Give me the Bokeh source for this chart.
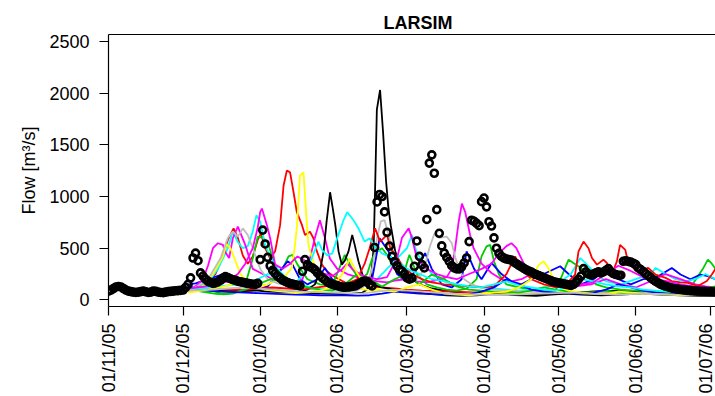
import pandas as pd
from math import pi
from bokeh.plotting import figure
from bokeh.models import Range1d, FixedTicker, DatetimeTickFormatter, LinearAxis
from bokeh.embed import file_html
from bokeh.resources import INLINE

# ---------------------------------------------------------------- data
START = pd.Timestamp("2005-11-01")

month_ticks = ["2005-11-01", "2005-12-01", "2006-01-01", "2006-02-01", "2006-03-01",
               "2006-04-01", "2006-05-01", "2006-06-01", "2006-07-01"]
tick_labels = ["01/11/05", "01/12/05", "01/01/06", "01/02/06", "01/03/06",
               "01/04/06", "01/05/06", "01/06/06", "01/07/06"]
flow_ticks = [0, 500, 1000, 1500, 2000, 2500]

# observed daily flow [m3/s], one value per day from 01/11/05
obs_flow = [
    85, 95, 110, 125, 130, 125, 110, 95, 85, 80,
    75, 72, 75, 80, 85, 78, 72, 75, 85, 82,
    75, 72, 70, 75, 80, 82, 85, 88, 90, 92,
    95, 120, 150, 213, 405, 452, 379, 261, 230, 200,
    180, 170, 160, 165, 175, 190, 210, 225, 215, 205,
    195, 190, 180, 175, 170, 165, 160, 155, 150, 150,
    160, 389, 675, 541, 411, 330, 285, 255, 230, 210,
    192, 180, 168, 158, 152, 146, 142, 138, 277, 389,
    341, 320, 309, 290, 261, 235, 213, 195, 175, 160,
    150, 143, 138, 130, 124, 122, 124, 126, 130, 134,
    145, 160, 175, 182, 178, 150, 135, 507, 947, 1020,
    1000, 851, 653, 520, 421, 370, 330, 295, 277, 250,
    213, 200, 210, 325, 570, 421, 341, 309, 778, 1323,
    1403, 1225, 873, 644, 522, 452, 411, 373, 331, 310,
    300, 300, 320, 357, 405, 564, 771, 760, 740, 718,
    950, 985, 900, 756, 714, 600, 500, 450, 420, 405,
    395, 390, 385, 365, 350, 335, 320, 305, 290, 280,
    270, 255, 245, 235, 225, 215, 205, 195, 185, 175,
    170, 165, 160, 155, 150, 145, 140, 150, 170, 200,
    230, 302, 271, 250, 240, 250, 262, 271, 261, 270,
    285, 302, 271, 255, 245, 239, 239, 373, 379, 372,
    366, 355, 341, 309, 293, 275, 255, 235, 215, 195,
    180, 165, 150, 140, 132, 125, 118, 112, 108, 104,
    100, 97, 94, 92, 90, 88, 86, 85, 84, 83,
    82, 81, 80, 80, 80,
]

# ensemble members: day offset from 01/11/05 and simulated flow [m3/s]
black_a_days = [32, 34, 38, 42, 46, 50, 54, 58, 62, 66, 70, 74, 78, 82, 86, 90, 94, 98, 102,
                104, 105.5, 106.6, 107.2, 107.9, 109.2, 110.4, 111.6, 112.5, 113.5, 115.3, 118, 121, 125,
                130, 135, 140, 146, 152, 158, 164, 170, 176, 182, 188, 194, 200, 206, 212,
                218, 224, 230, 236, 244]
black_a_flow = [95, 110, 120, 105, 95, 90, 90, 95, 110, 100, 85, 75, 70, 65, 60, 58, 55, 60, 70,
                100, 200, 500, 1074, 1840, 2030, 1620, 1150, 900, 720, 470, 310, 220, 150,
                110, 90, 75, 65, 60, 70, 60, 55, 55, 60, 70, 80, 90, 85, 80,
                70, 65, 60, 62, 70]

black_b_days = [32, 36, 42, 48, 54, 60, 64, 70, 76, 80, 83, 85, 86.5, 87.7, 89.1, 90.2, 91.2, 92.5,
                93.8, 95, 96.5, 98, 99, 100.5, 102.5, 106, 110, 115, 120, 125, 130, 136, 142, 148,
                154, 160, 166, 172, 178, 184, 190, 198, 206, 214, 222, 230, 238, 244]
black_b_flow = [100, 120, 100, 90, 85, 90, 80, 75, 80, 100, 150, 277, 469, 760, 1041, 880, 723, 469,
                341, 380, 469, 628, 532, 373, 213, 150, 120, 100, 85, 70, 55, 45, 40, 45,
                55, 50, 45, 40, 50, 60, 50, 45, 50, 60, 50, 45, 40, 40]

red_a_days = [32, 35, 39, 43, 46, 48, 50.3, 52, 54, 56, 58, 60, 61.3, 63, 65, 67, 69, 70.4, 71.7, 73,
              74.4, 75.7, 77.8, 79, 81, 82.4, 83.8, 85.8, 87.8, 91, 95, 100, 105, 110, 115, 120,
              126, 132, 138, 144, 150, 156, 162, 168, 174, 180, 186, 192, 198, 204, 210, 216,
              222, 228, 234, 240, 244]
red_a_flow = [110, 130, 160, 250, 420, 580, 692, 600, 430, 350, 420, 580, 644, 500, 400, 470, 723, 1106,
              1250, 1234, 1043, 852, 723, 628, 660, 596, 469, 341, 277, 220, 170, 140, 130, 120, 110,
              100, 90, 85, 80, 75, 70, 80, 90, 85, 80, 70, 65, 60, 70, 75, 70, 65, 60, 55, 50, 55, 60]

red_b_days = [32, 36, 42, 48, 54, 60, 66, 72, 78, 84, 90, 96, 100, 103, 105, 107.2, 109.2, 112, 113.3,
              115.3, 118, 122, 126, 130, 135, 140, 145, 150, 155, 160, 163.5, 166, 170, 175, 180,
              184, 187.6, 189, 191, 193, 194.4, 196.4, 199, 200.4, 202.4, 204.4, 205.7, 207.8, 209,
              211.8, 214, 217, 220, 224, 226.5, 230, 233, 237, 240.6, 242.6, 244]
red_b_flow = [90, 100, 110, 100, 95, 110, 120, 110, 100, 120, 140, 160, 200, 350, 500, 692, 564, 628, 500,
              436, 340, 250, 200, 170, 150, 140, 130, 120, 130, 250, 421, 300, 200, 150, 120,
              150, 245, 469, 564, 500, 405, 341, 389, 357, 245, 373, 532, 484, 357,
              293, 280, 309, 245, 213, 182, 170, 165, 134, 182, 245, 300]

green_a_days = [32, 35, 40, 44, 48, 52, 55, 58, 60, 62, 64, 66, 68, 70, 72.4, 74, 76, 80, 85, 90,
                95, 98, 101, 104, 106, 108, 110, 112, 115, 118, 121, 124, 128, 132, 136, 140, 144,
                148, 150, 152, 153.5, 155, 157, 160, 165, 170, 175, 180, 185, 188, 192, 196, 200,
                206, 212, 218, 224, 230, 234, 236.6, 239, 241, 242.6, 244]
green_a_flow = [100, 90, 70, 55, 60, 100, 150, 400, 612, 600, 560, 405, 277, 300, 421, 436, 341, 200, 150, 140,
                436, 300, 200, 250, 400, 469, 500, 436, 300, 200, 436, 250, 150, 120, 100, 90, 110,
                200, 421, 517, 532, 373, 245, 150, 120, 100, 90, 100, 389, 340, 277, 150, 120,
                100, 90, 80, 70, 80, 120, 213, 300, 389, 350, 300]

green_b_days = [32, 36, 42, 46, 50, 55, 60, 65, 70, 75, 80, 85, 90, 95, 100, 105, 110, 115, 120, 125,
                130, 135, 140, 145, 150, 155, 160, 165, 170, 175, 180, 185, 190, 195, 200, 205, 210,
                215, 220, 225, 230, 236, 240, 244]
green_b_flow = [120, 100, 86, 54, 60, 101, 150, 200, 180, 150, 120, 100, 90, 150, 250, 200, 130, 200, 250, 150,
                245, 200, 130, 100, 90, 80, 75, 70, 90, 120, 100, 80, 70, 75, 90, 70, 60,
                55, 60, 70, 70, 90, 110, 130]

blue_a_days = [32, 35, 40, 45.6, 48, 52, 56, 60, 64, 68, 72, 74, 77, 80, 84, 87, 90, 94, 98, 102,
               106, 109, 112.6, 116, 120, 124, 127.3, 130, 134, 138, 142, 144, 147, 150, 154, 158,
               162, 166, 170, 175, 181.6, 185, 190, 195, 200, 205, 210, 215, 220, 226.5, 230, 234,
               238, 241, 244]
blue_a_flow = [150, 160, 200, 245, 200, 150, 120, 100, 130, 250, 373, 341, 200, 150, 200, 309, 200, 130, 120, 130,
               200, 596, 469, 250, 180, 300, 452, 300, 150, 120, 200, 469, 300, 200, 357, 250,
               180, 150, 200, 250, 325, 250, 150, 200, 300, 200, 150, 200, 213, 309, 245, 200,
               245, 230, 200]

blue_b_days = [32, 35, 40, 45, 50, 55, 60, 65, 70, 75, 80, 85, 90, 95, 100, 105, 110, 115, 120, 125,
               130, 135, 140, 145, 150, 155, 160, 165, 170, 175, 180, 185, 190, 195, 200, 205, 210,
               215, 220, 225, 230, 235, 240, 244]
blue_b_flow = [130, 110, 90, 80, 75, 70, 65, 60, 55, 50, 48, 45, 44, 43, 42, 45, 60, 80, 70, 60,
               55, 50, 48, 55, 80, 120, 200, 150, 100, 80, 70, 65, 60, 70, 100, 150, 120,
               90, 70, 60, 55, 60, 80, 70]

cyan_a_days = [32, 35, 40, 44, 48, 50, 52, 54, 56, 58, 59.5, 61, 63, 65, 68, 72, 76, 80, 84, 88,
               92, 96, 100, 104, 108, 112, 116, 120, 122, 124, 127, 130, 135, 140, 145, 150, 155,
               160, 165, 170, 175, 180, 186, 189.7, 192, 196, 200, 206, 212, 218, 220, 224, 228,
               232, 236, 240, 244]
cyan_a_flow = [120, 130, 170, 300, 500, 660, 560, 500, 520, 660, 819, 756, 532, 420, 300, 200, 150, 130, 110, 100,
               90, 85, 100, 150, 200, 300, 400, 500, 628, 450, 350, 250, 180, 150, 130, 120, 110,
               100, 90, 100, 120, 150, 250, 405, 350, 250, 180, 150, 200, 250, 309, 250, 200,
               180, 200, 250, 200]

cyan_b_days = [32, 36, 42, 48, 54, 60, 64, 68, 72, 76, 80, 84.4, 86, 88, 90, 92, 94.5, 96, 98.5, 100.5,
               103, 105, 107, 110, 113, 116, 120, 125, 130, 135, 140, 145, 150, 155, 160, 165, 170,
               175, 180, 185, 190, 195, 200, 205, 210, 215, 220, 225, 230, 235, 240, 244]
cyan_b_flow = [100, 110, 120, 140, 150, 200, 250, 230, 200, 180, 300, 564, 480, 430, 450, 600, 771, 849, 771, 692,
               564, 596, 520, 450, 420, 380, 300, 250, 200, 180, 150, 130, 120, 150, 180, 140, 120,
               100, 90, 130, 200, 180, 150, 130, 120, 100, 90, 80, 85, 90, 100, 110]

magenta_a_days = [32, 35, 38, 40, 42, 44, 46, 47, 48.5, 50, 52, 55, 58, 62, 66, 70, 74, 78, 81, 83,
                  85, 87, 89, 92, 96, 100, 104, 108, 112, 116, 120, 124, 128, 132, 136, 138, 139.4,
                  140.8, 142.1, 143.4, 145.4, 146.8, 150, 154, 158, 162, 166, 170, 176, 182, 188,
                  194, 200, 206, 212, 218, 224, 230, 236, 240, 244]
magenta_a_flow = [100, 130, 200, 330, 500, 548, 532, 460, 405, 596, 708, 532, 300, 250, 200, 180, 170, 200, 400, 600,
                  771, 600, 400, 300, 250, 220, 200, 180, 170, 190, 200, 180, 170, 190, 220, 300, 500,
                  756, 931, 852, 628, 500, 350, 260, 200, 180, 200, 250, 180, 150, 130,
                  150, 200, 150, 120, 180, 250, 200, 150, 130, 120]

magenta_b_days = [32, 36, 42, 48, 52, 55, 58, 60, 61, 61.7, 63.7, 65, 67, 70, 73, 76, 79, 82, 86, 90,
                  94, 96, 98, 101, 104, 108, 112, 116, 118, 120.7, 122, 124, 128, 132, 136, 140, 145,
                  150, 154, 157, 160, 162, 164, 167, 170, 174, 178, 182, 186, 190, 195, 200, 205,
                  210, 215, 220, 225, 230, 235, 240, 244]
magenta_b_flow = [110, 120, 140, 180, 250, 350, 500, 700, 850, 883, 723, 596, 341, 300, 350, 420, 380, 300, 260, 230,
                  300, 350, 300, 250, 220, 200, 220, 400, 600, 692, 600, 400, 300, 250, 220, 200, 250,
                  300, 350, 450, 520, 548, 500, 350, 250, 200, 180, 170, 160, 150, 170, 250, 330,
                  280, 220, 200, 180, 150, 130, 120, 110]

yellow_a_days = [32, 35, 39, 42, 44, 46, 47.5, 49, 51, 53, 56, 60, 64, 68, 71, 73.7, 75, 75.8, 77, 78.4,
                 79, 79.8, 80.4, 81.8, 83.8, 85.8, 88, 92, 96, 100, 105, 110, 115, 120, 125, 130,
                 135, 140, 145, 150, 155, 160, 165, 170, 175, 180, 185, 190, 195, 200, 205, 210,
                 215, 220, 225, 230, 235, 240, 244]
yellow_a_flow = [80, 90, 150, 250, 330, 420, 540, 500, 380, 250, 170, 130, 150, 200, 230, 309, 532, 723, 1202, 1234,
                 1010, 723, 532, 405, 277, 213, 170, 140, 120, 110, 95, 85, 80, 75, 70, 65,
                 60, 55, 60, 65, 70, 60, 55, 60, 70, 80, 75, 70, 65, 60, 55, 60,
                 65, 60, 55, 50, 55, 60, 60]

yellow_b_days = [32, 35, 40, 45, 50, 55, 60, 63, 66, 70, 75, 80, 85, 90, 94, 97, 99, 102, 106, 110,
                 115, 120, 125, 130, 135, 140, 145, 150, 155, 160, 165, 170, 173, 175, 177, 180, 185,
                 190, 195, 200, 205, 210, 215, 220, 225, 230, 235, 240, 244]
yellow_b_flow = [70, 80, 100, 120, 150, 200, 120, 100, 90, 80, 70, 75, 90, 120, 250, 400, 300, 180, 120, 90,
                 80, 120, 150, 100, 60, 50, 45, 55, 70, 80, 120, 200, 340, 373, 300, 150, 90,
                 70, 60, 55, 80, 70, 60, 55, 50, 45, 50, 55, 55]

gray_a_days = [32, 35, 40, 45, 48, 50, 52, 54, 56, 58, 61, 64, 68, 72, 76, 80, 84, 88, 92, 96,
               100, 104, 106, 108, 109.5, 111, 112.5, 114, 116, 118, 121, 124, 127, 129, 131, 133,
               136, 138, 139.5, 141, 143, 146, 150, 155, 160, 165, 170, 175, 180, 185, 190, 195,
               200, 205, 210, 215, 220, 225, 230, 235, 240, 244]
gray_a_flow = [110, 120, 200, 400, 600, 660, 612, 692, 628, 500, 300, 200, 160, 140, 120, 110, 100, 95, 90, 85,
               90, 150, 300, 600, 760, 771, 640, 500, 380, 300, 250, 200, 300, 500, 640, 600,
               612, 550, 405, 300, 200, 150, 120, 100, 90, 85, 80, 75, 70, 65, 60, 70,
               80, 75, 70, 65, 60, 55, 55, 50, 50, 50]

gray_b_days = [32, 36, 42, 48, 54, 60, 66, 72, 78, 84, 90, 96, 102, 108, 114, 120, 126, 132, 138, 144,
               150, 156, 162, 168, 174, 180, 186, 192, 198, 204, 210, 216, 222, 228, 234, 240, 244]
gray_b_flow = [90, 95, 100, 110, 120, 110, 100, 90, 80, 75, 70, 65, 60, 80, 100, 90, 80, 70, 60, 55,
               50, 48, 50, 55, 60, 65, 70, 60, 55, 50, 55, 60, 55, 50, 48, 50, 52]

members = [
    ("#000000", black_a_days, black_a_flow),
    ("#FF0000", red_a_days, red_a_flow),
    ("#00CD00", green_a_days, green_a_flow),
    ("#0000FF", blue_a_days, blue_a_flow),
    ("#00FFFF", cyan_a_days, cyan_a_flow),
    ("#FF00FF", magenta_a_days, magenta_a_flow),
    ("#FFFF00", yellow_a_days, yellow_a_flow),
    ("#BEBEBE", gray_a_days, gray_a_flow),
    ("#000000", black_b_days, black_b_flow),
    ("#FF0000", red_b_days, red_b_flow),
    ("#00CD00", green_b_days, green_b_flow),
    ("#0000FF", blue_b_days, blue_b_flow),
    ("#00FFFF", cyan_b_days, cyan_b_flow),
    ("#FF00FF", magenta_b_days, magenta_b_flow),
    ("#FFFF00", yellow_b_days, yellow_b_flow),
    ("#BEBEBE", gray_b_days, gray_b_flow),
]


def as_dates(days):
    return START + pd.to_timedelta(pd.Series(days, dtype=float), unit="D")


# ---------------------------------------------------------------- figure
FONT = "Liberation Sans"
PX_PER_DAY = 2.487
x_end = START + pd.Timedelta(days=(715 - 108) / PX_PER_DAY)

p = figure(width=715, height=396, x_axis_type="datetime",
           x_range=Range1d(START, x_end), y_range=Range1d(-64, 2567),
           output_backend="svg", toolbar_location=None,
           min_border_left=108, min_border_right=0, min_border_top=34, min_border_bottom=87)

p.background_fill_color = "white"
p.border_fill_color = "white"
p.outline_line_color = None
p.xgrid.visible = False
p.ygrid.visible = False

# the plot box runs on past the right edge, so the title sits right of the visible centre
p.title.text = "LARSIM"
p.title.text_font = FONT
p.title.text_font_size = "18px"
p.title.text_font_style = "bold"
p.title.text_color = "black"
p.title.align = "left"
p.title.offset = 275
p.title.standoff = 3

tick_ms = [pd.Timestamp(t).value // 10**6 for t in month_ticks]
xa = p.xaxis[0]
xa.ticker = FixedTicker(ticks=tick_ms)
xa.formatter = DatetimeTickFormatter(days="%d/%m/%y", months="%d/%m/%y", years="%d/%m/%y")
xa.major_label_overrides = {ms: lab for ms, lab in zip(tick_ms, tick_labels)}
xa.major_label_orientation = pi / 2
xa.major_label_standoff = 8

ya = p.yaxis[0]
ya.ticker = FixedTicker(ticks=flow_ticks)
ya.major_label_standoff = 10
ya.axis_label = "Flow [m³/s]"
ya.axis_label_text_font = FONT
ya.axis_label_text_font_size = "18px"
ya.axis_label_text_font_style = "normal"
ya.axis_label_text_color = "black"
ya.axis_label_standoff = 7

for ax in (xa, ya):
    ax.major_label_text_font = FONT
    ax.major_label_text_font_size = "18px"
    ax.major_label_text_color = "black"
    ax.axis_line_color = "black"
    ax.axis_line_width = 1.2
    ax.major_tick_line_color = "black"
    ax.major_tick_line_width = 1.2
    ax.major_tick_in = 0
    ax.major_tick_out = 9
    ax.minor_tick_line_color = None

# upper edge of the plot box
top_edge = LinearAxis(ticker=FixedTicker(ticks=[]), major_label_text_font_size="0px",
                      major_tick_line_color=None, minor_tick_line_color=None,
                      axis_line_color="black", axis_line_width=1.2)
p.add_layout(top_edge, "above")

for colour, days, flow in members:
    p.line(as_dates(days), flow, line_color=colour, line_width=1.8)

p.scatter(as_dates(list(range(len(obs_flow)))), obs_flow, marker="circle", size=7,
          fill_color=None, line_color="black", line_width=2.6)

open("out.html", "w").write(file_html(p, INLINE))
